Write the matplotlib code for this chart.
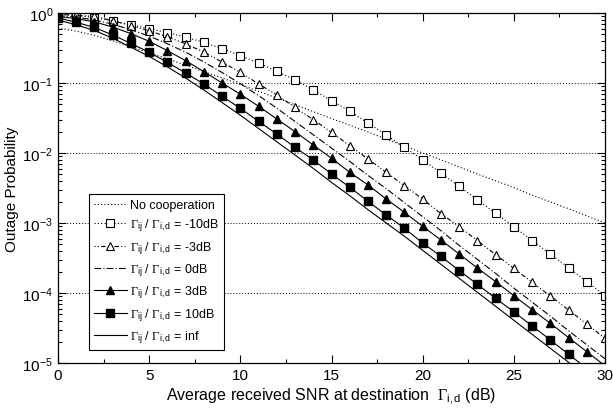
import numpy as np
import matplotlib
matplotlib.use("Agg")
import matplotlib.pyplot as plt
from matplotlib.ticker import LogLocator, MultipleLocator, NullFormatter

plt.rcParams['font.family'] = ['Liberation Sans', 'DejaVu Sans']
plt.rcParams['mathtext.fontset'] = 'custom'
plt.rcParams['mathtext.rm'] = 'Liberation Serif'
plt.rcParams['mathtext.sf'] = 'Liberation Sans'
plt.rcParams['mathtext.it'] = 'Liberation Serif:italic'

snr_db = list(range(0, 31))

no_coop = [0.61, 0.55, 0.48, 0.40, 0.33, 0.27, 0.22, 0.18, 0.145, 0.118, 0.095,
           0.076, 0.061, 0.049, 0.039, 0.031, 0.025, 0.020, 0.0158, 0.0126, 0.0100,
           0.0080, 0.0063, 0.0050, 0.0040, 0.0032, 0.0025, 0.0020, 0.0016, 0.00126, 0.0010]

log_m10 = [-0.02, -0.035, -0.065, -0.115, -0.167, -0.225, -0.28, -0.345, -0.42, -0.51, -0.61,
           -0.714, -0.833, -0.957, -1.10, -1.252, -1.405, -1.571, -1.743, -1.919, -2.097,
           -2.29, -2.476, -2.667, -2.862, -3.052, -3.252, -3.443, -3.638, -3.838, -4.038]

log_m3 = [-0.02, -0.03, -0.05, -0.11, -0.181, -0.255, -0.34, -0.44, -0.56, -0.70, -0.85,
          -1.014, -1.171, -1.348, -1.524, -1.705, -1.895, -2.086, -2.276, -2.467, -2.657,
          -2.867, -3.052, -3.252, -3.452, -3.648, -3.848, -4.043, -4.243, -4.443, -4.648]

log_0 = [-0.035, -0.06, -0.10, -0.16, -0.24, -0.33, -0.44, -0.56, -0.70, -0.85, -1.01,
         -1.18, -1.36, -1.55, -1.74, -1.93, -2.12, -2.32, -2.51, -2.71, -2.91,
         -3.11, -3.32, -3.52, -3.72, -3.93, -4.13, -4.33, -4.54, -4.74, -4.94]

log_3 = [-0.05, -0.08, -0.128, -0.20, -0.295, -0.405, -0.538, -0.681, -0.838, -1.0, -1.16,
         -1.333, -1.514, -1.695, -1.886, -2.076, -2.276, -2.457, -2.657, -2.848, -3.048,
         -3.243, -3.443, -3.643, -3.838, -4.038, -4.238, -4.433, -4.638, -4.838, -5.04]

log_10 = [-0.07, -0.133, -0.207, -0.314, -0.435, -0.562, -0.705, -0.857, -1.014, -1.19, -1.362,
          -1.548, -1.729, -1.919, -2.10, -2.30, -2.49, -2.69, -2.886, -3.076, -3.286,
          -3.476, -3.68, -3.876, -4.076, -4.27, -4.47, -4.67, -4.876, -5.076, -5.27]

log_inf = [-0.10, -0.17, -0.25, -0.36, -0.49, -0.62, -0.77, -0.93, -1.10, -1.28, -1.46,
           -1.65, -1.84, -2.03, -2.22, -2.42, -2.61, -2.81, -3.00, -3.19, -3.39,
           -3.59, -3.79, -3.99, -4.19, -4.39, -4.59, -4.79, -4.99, -5.19, -5.39]

G = r'$\Gamma_{\mathsf{ij}}$ / $\Gamma_{\mathsf{i,d}}$'
labels = ['No cooperation',
          G + ' = -10dB',
          G + ' = -3dB',
          G + ' = 0dB',
          G + ' = 3dB',
          G + ' = 10dB',
          G + ' = inf']

fig = plt.figure(figsize=(6.13, 4.10), dpi=100)
ax = fig.add_axes([0.0946, 0.1122, 0.8924, 0.8537])

x = np.array(snr_db)
lw = 0.8
ms_s = 5.3
ms_t = 5.8
ax.plot(x, no_coop, color='k', lw=lw, ls=(0, (1, 2)), label=labels[0])
ax.plot(x, 10 ** np.array(log_m10), color='k', lw=lw, ls=(0, (1, 2)), marker='s',
        ms=ms_s, mfc='white', mec='k', mew=0.8, label=labels[1])
ax.plot(x, 10 ** np.array(log_m3), color='k', lw=lw, ls=(0, (1, 2, 1, 2, 4, 2)), marker='^',
        ms=ms_t, mfc='white', mec='k', mew=0.8, label=labels[2])
ax.plot(x, 10 ** np.array(log_0), color='k', lw=lw, ls=(0, (6, 2, 1, 2)), label=labels[3])
ax.plot(x, 10 ** np.array(log_3), color='k', lw=lw, ls='-', marker='^',
        ms=ms_t, mfc='k', mec='k', label=labels[4])
ax.plot(x, 10 ** np.array(log_10), color='k', lw=lw, ls='-', marker='s',
        ms=ms_s, mfc='k', mec='k', label=labels[5])
ax.plot(x, 10 ** np.array(log_inf), color='k', lw=lw, ls='-', label=labels[6])

ax.set_yscale('log')
ax.set_xlim(0, 30)
ax.set_ylim(1e-5, 1)
ax.xaxis.set_major_locator(MultipleLocator(5))
ax.xaxis.set_minor_locator(MultipleLocator(2.5))
ax.yaxis.set_major_locator(LogLocator(base=10, numticks=10))
ax.yaxis.set_minor_locator(LogLocator(base=10, subs=np.arange(2, 10), numticks=10))
ax.yaxis.set_minor_formatter(NullFormatter())
ax.tick_params(which='both', direction='in', top=True, right=True, labelsize=11, width=0.8)
ax.tick_params(which='major', length=6)
ax.tick_params(which='minor', length=3)
ax.grid(True, which='major', axis='y', color='k', ls=(0, (1, 2)), lw=0.7)
for s in ax.spines.values():
    s.set_linewidth(0.9)

ax.set_xlabel(r'Average received SNR at destination  $\Gamma_{\mathsf{i,d}}$ (dB)', fontsize=11.5, labelpad=2)
ax.set_ylabel('Outage Probability', fontsize=11, labelpad=2)

leg = ax.legend(loc='lower left', bbox_to_anchor=(0.0567, 0.037), borderaxespad=0,
                fontsize=9, frameon=True,
                fancybox=False, edgecolor='k', framealpha=1, handlelength=2.6,
                borderpad=0.4, labelspacing=0.45, handletextpad=0.3)
leg.get_frame().set_linewidth(0.8)

fig.savefig('out.png', dpi=100)
